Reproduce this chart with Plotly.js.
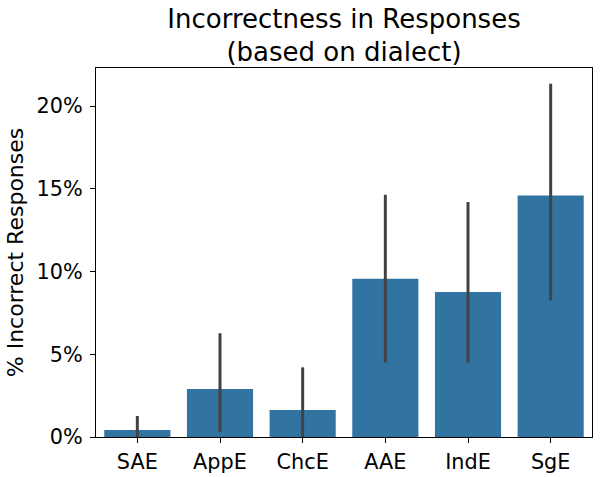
<!DOCTYPE html>
<html>
<head>
<meta charset="utf-8">
<script src="https://cdn.plot.ly/plotly-3.0.1.min.js"></script>
<style>html,body{margin:0;padding:0;background:#fff;}#chart{width:600px;height:477px;}</style>
</head>
<body>
<div id="chart"></div>
<script>
const dialects = ["SAE", "AppE", "ChcE", "AAE", "IndE", "SgE"];
const incorrectPct = [0.42, 2.9, 1.63, 9.56, 8.77, 14.6];
const ciUpper = [1.27, 6.27, 4.21, 14.64, 14.2, 21.35];
const ciLower = [0.0, 0.32, 0.0, 4.5, 4.5, 8.25];
const yTickVals = [0, 5, 10, 15, 20];
const yTickText = ["0%", "5%", "10%", "15%", "20%"];

const errPlus = ciUpper.map((u, i) => u - incorrectPct[i]);
const errMinus = ciLower.map((l, i) => incorrectPct[i] - l);

const trace = {
  type: "bar",
  x: dialects,
  y: incorrectPct,
  width: 0.8,
  marker: {color: "#3274a1", line: {width: 0}},
  error_y: {
    type: "data",
    symmetric: false,
    array: errPlus,
    arrayminus: errMinus,
    color: "#424242",
    thickness: 3,
    width: 0
  },
  hoverinfo: "skip"
};

const fam = "DejaVu Sans, sans-serif";

const layout = {
  width: 600,
  height: 477,
  margin: {l: 96, r: 8, t: 68, b: 40, pad: 0},
  paper_bgcolor: "#fff",
  plot_bgcolor: "#fff",
  showlegend: false,
  font: {family: fam, color: "#000"},
  title: {
    text: "Incorrectness in Responses<br>(based on dialect)",
    font: {family: fam, size: 26, color: "#000"},
    xref: "paper", x: 0.5, xanchor: "center",
    yref: "container", y: 0.942, yanchor: "top"
  },
  xaxis: {
    type: "category",
    range: [-0.5, 5.5],
    showgrid: false,
    zeroline: false,
    showline: true, linecolor: "#000", linewidth: 1, mirror: true,
    ticks: "outside", ticklen: 5, tickwidth: 1, tickcolor: "#000",
    ticklabelstandoff: 1,
    tickfont: {family: fam, size: 20.8, color: "#000"}
  },
  yaxis: {
    range: [0, 22.3],
    tickvals: yTickVals,
    ticktext: yTickText,
    showgrid: false,
    zeroline: false,
    showline: true, linecolor: "#000", linewidth: 1, mirror: true,
    ticks: "outside", ticklen: 5, tickwidth: 1, tickcolor: "#000",
    ticklabelstandoff: 3,
    tickfont: {family: fam, size: 20.8, color: "#000"},
    title: {text: "% Incorrect Responses", font: {family: fam, size: 22, color: "#000"}, standoff: 6}
  }
};

Plotly.newPlot("chart", [trace], layout, {displayModeBar: false, staticPlot: true});
</script>
</body>
</html>
